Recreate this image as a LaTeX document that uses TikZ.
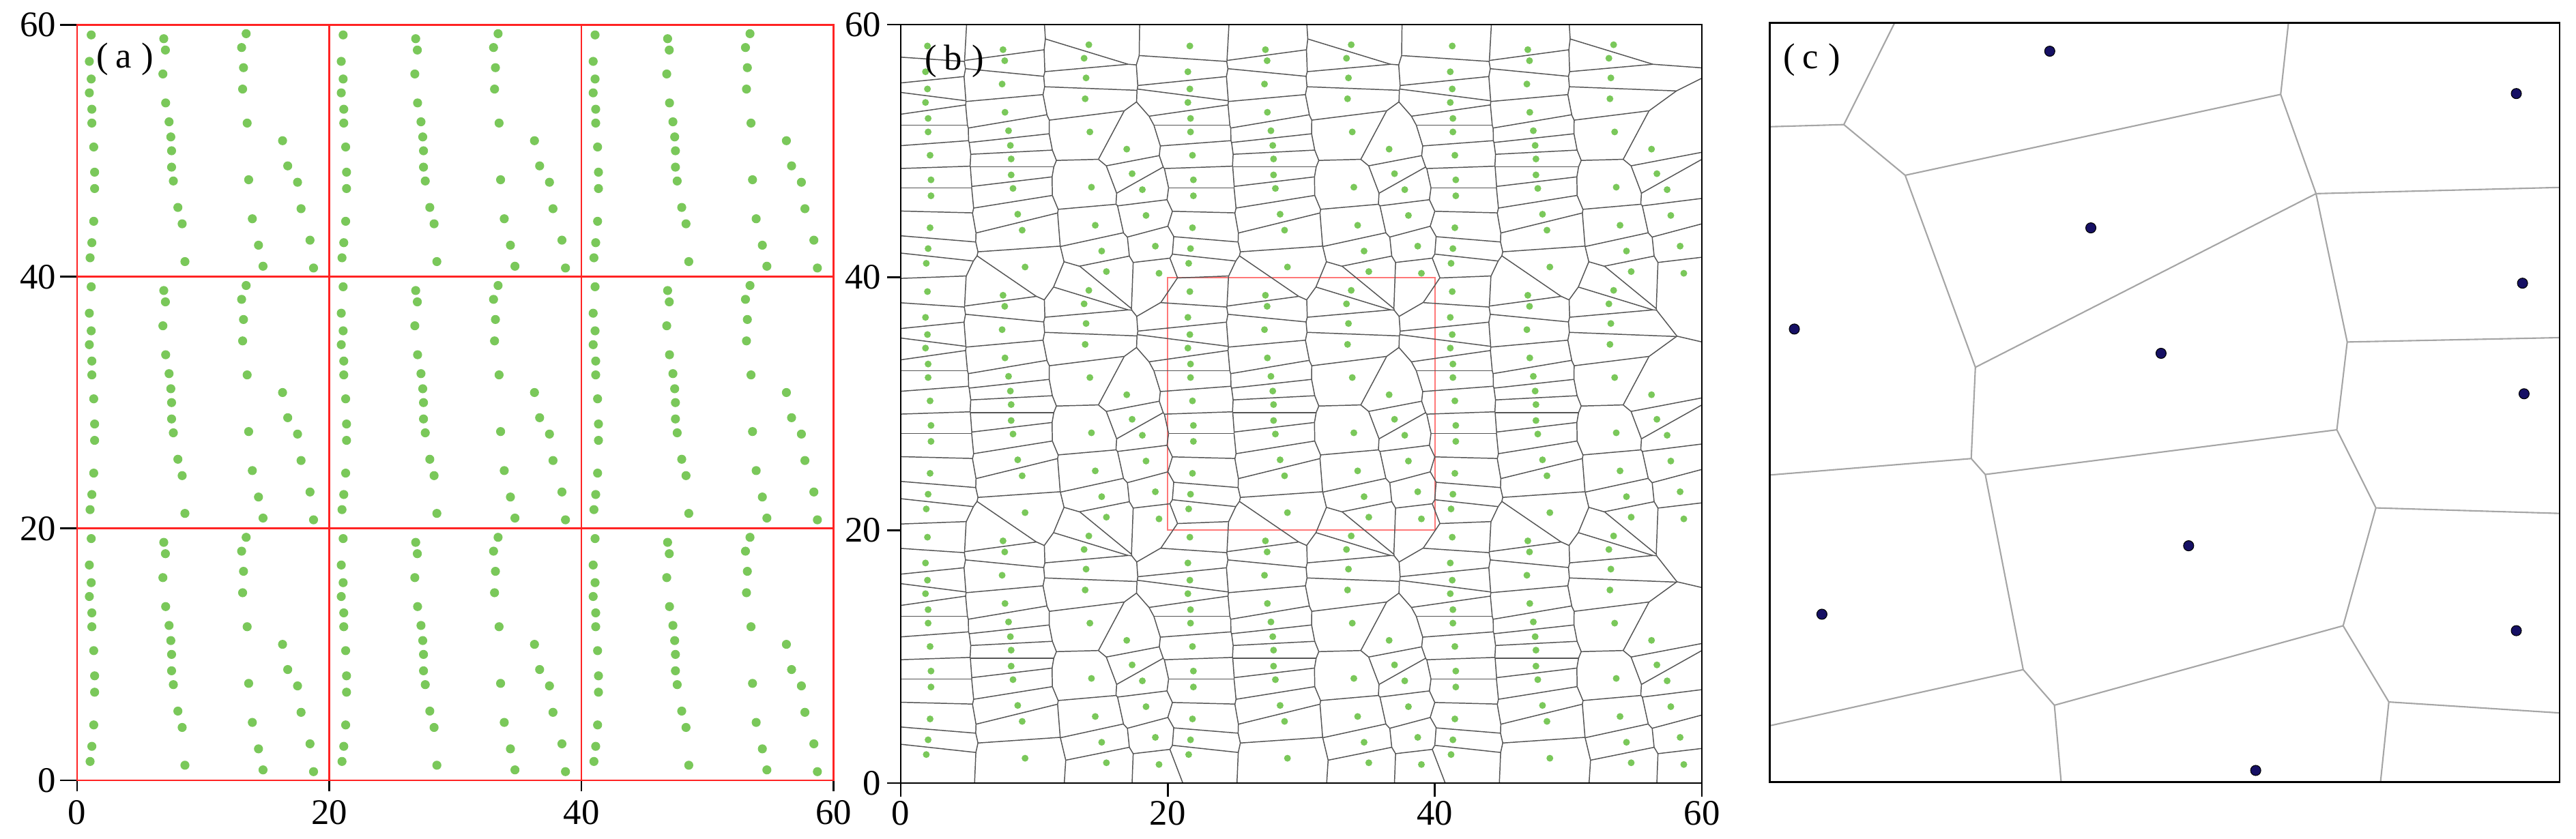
\documentclass[tikz,border=0pt]{standalone}
\usepackage{fontspec}
\setmainfont{Liberation Serif}

\definecolor{dotgreen}{RGB}{122,200,90}
\definecolor{gridred}{RGB}{255,35,35}
\definecolor{rectred}{RGB}{255,120,120}
\definecolor{vorgray}{RGB}{85,85,85}
\definecolor{cgray}{RGB}{165,165,165}
\definecolor{navydot}{RGB}{22,16,100}

\tikzset{
  vor/.style={draw=vorgray, line width=0.42pt},
  cedge/.style={draw=cgray, line width=0.6pt},
  axisline/.style={draw=black, line width=0.8pt},
  gridline/.style={draw=gridred, line width=0.8pt},
  ticklbl/.style={inner sep=0pt, font=\fontsize{15pt}{18pt}\selectfont},
  panellbl/.style={inner sep=0pt, anchor=west, font=\fontsize{15pt}{18pt}\selectfont},
  adot/.style={fill=dotgreen, radius=0.066cm},
  bdot/.style={fill=dotgreen, radius=0.05cm},
  cdot/.style={fill=navydot, draw=black, line width=0.3pt, radius=0.075cm},
}

% ---------- point data (tile of 20 x 20, values x100) ----------
\newcount\vorN \newcount\vorI \newcount\vorK
\newcount\vorXi \newcount\vorYi \newcount\vorJx \newcount\vorJy
\newcount\vorKx \newcount\vorKy \newcount\vorA \newcount\vorB
\newcount\vorT \newcount\vorD \newcount\vorTlo \newcount\vorThi \newcount\vorOk

\def\vorPX#1{\count\numexpr20000+#1\relax}
\def\vorPY#1{\count\numexpr21000+#1\relax}
\def\vorAdd#1#2{\vorPX{\vorN}=\numexpr#1\relax
  \vorPY{\vorN}=\numexpr#2\relax \advance\vorN by 1\relax}

\def\vorTiledata{%
\vorTp{112}{1920}\vorTp{97}{1710}\vorTp{112}{1570}\vorTp{97}{1460}\vorTp{117}{1330}\vorTp{117}{1220}%
\vorTp{132}{1030}\vorTp{139}{830}\vorTp{139}{700}\vorTp{132}{440}\vorTp{117}{270}\vorTp{103}{150}%
\vorTp{688}{1890}\vorTp{701}{1800}\vorTp{681}{1610}\vorTp{703}{1380}\vorTp{730}{1230}\vorTp{744}{1110}%
\vorTp{750}{1000}\vorTp{750}{870}\vorTp{764}{760}\vorTp{800}{550}\vorTp{834}{420}\vorTp{856}{120}%
\vorTp{1342}{1930}\vorTp{1306}{1820}\vorTp{1321}{1660}\vorTp{1314}{1490}\vorTp{1350}{1220}%
\vorTp{1362}{770}\vorTp{1391}{460}\vorTp{1440}{250}\vorTp{1476}{83}%
\vorTp{1631}{1080}\vorTp{1672}{880}\vorTp{1750}{750}\vorTp{1778}{540}\vorTp{1849}{290}\vorTp{1877}{69}}
\def\vorAddtile#1#2{\def\vorTp##1##2{\vorAdd{##1+#1}{##2+#2}}\vorTiledata}
\vorAddtile{0}{0}\vorAddtile{2000}{0}\vorAddtile{4000}{0}
\vorAddtile{0}{2000}\vorAddtile{2000}{2000}\vorAddtile{4000}{2000}
\vorAddtile{0}{4000}\vorAddtile{2000}{4000}\vorAddtile{4000}{4000}

% ---------- Voronoi edges (bisector clipping) ----------
\def\vorKscan{\ifnum\vorK<\vorN \vorKscanbody \advance\vorK by 1\relax \expandafter\vorKscan\fi}
\def\vorKscanbody{%
  \ifnum\vorK=\vorI\else
    \vorKx=\numexpr\vorPX{\vorK}-\vorXi\relax
    \vorKy=\numexpr\vorPY{\vorK}-\vorYi\relax
    \ifnum\numexpr\vorKx*\vorKx+\vorKy*\vorKy\relax<1440000
      \edef\vorList{\unexpanded\expandafter{\vorList}\noexpand\vorItem{\the\vorK}}%
    \fi
  \fi}
\def\vorIloop{\ifnum\vorI<\vorN \vorIbody \expandafter\vorIloop\fi}
\def\vorIbody{%
  \vorXi=\vorPX{\vorI}\relax \vorYi=\vorPY{\vorI}\relax
  \def\vorList{}\vorK=0 \vorKscan
  \let\vorItem\vorJproc \vorList
  \advance\vorI by 1\relax}
\def\vorJproc#1{%
  \ifnum#1>\vorI
    \vorJx=\numexpr\vorPX{#1}-\vorXi\relax
    \vorJy=\numexpr\vorPY{#1}-\vorYi\relax
    \ifnum\numexpr\vorJx*\vorJx+\vorJy*\vorJy\relax<1102500
      \vorJwork
    \fi
  \fi}
\def\vorJwork{%
  \begingroup
  \vorTlo=-80000 \vorThi=80000 \vorOk=1
  \let\vorItem\vorKproc \vorList
  \ifnum\vorOk=1 \vorEmit\fi
  \endgroup}
\def\vorKproc#1{\ifnum\vorOk=1 \vorKwork{#1}\fi}
\def\vorKwork#1{%
  \vorKx=\numexpr\vorPX{#1}-\vorXi\relax
  \vorKy=\numexpr\vorPY{#1}-\vorYi\relax
  \vorA=\numexpr2*(\vorKy*\vorJx-\vorKx*\vorJy)\relax
  \vorB=\numexpr\vorKx*\vorKx+\vorKy*\vorKy-\vorKx*\vorJx-\vorKy*\vorJy\relax
  \ifnum\vorA=0
    \ifnum\vorB<0 \vorOk=0 \fi
  \else
    \vorD=\vorA \ifnum\vorD<0 \vorD=-\vorD \fi
    \vorT=\vorB \ifnum\vorT<0 \vorT=-\vorT \fi
    \ifnum\vorT<\numexpr8*\vorD\relax
      \vorT=\numexpr\vorB*10000/\vorA\relax
      \ifnum\vorA>0
        \ifnum\vorT<\vorThi \vorThi=\vorT \fi
      \else
        \ifnum\vorT>\vorTlo \vorTlo=\vorT \fi
      \fi
      \ifnum\vorTlo<\vorThi\else \vorOk=0 \fi
    \else
      \ifnum\vorB<0 \vorOk=0 \fi
    \fi
  \fi}
\def\vorEmit{%
  \edef\vorTmp{\noexpand\draw[vor] (\the\numexpr(2*\vorXi+\vorJx)/2-\vorTlo*\vorJy/10000\relax,\the\numexpr(2*\vorYi+\vorJy)/2+\vorTlo*\vorJx/10000\relax)--(\the\numexpr(2*\vorXi+\vorJx)/2-\vorThi*\vorJy/10000\relax,\the\numexpr(2*\vorYi+\vorJy)/2+\vorThi*\vorJx/10000\relax);}%
  \vorTmp}
\def\vorDotloop{\ifnum\vorK<\vorN \vorDotbody \advance\vorK by 1\relax \expandafter\vorDotloop\fi}
\def\vorDotbody{\edef\vorTmp{\noexpand\fill[\vorDotstyle] (\the\vorPX{\vorK},\the\vorPY{\vorK}) circle;}\vorTmp}

\begin{document}
\begin{tikzpicture}
\useasboundingbox (0,0) rectangle (37.75,12.30);
\fill[white] (0,0) rectangle (37.75,12.30);

% ================= panel (a) =================
\draw[axisline] (1.13,11.933) -- (1.13,0.86) -- (12.215,0.86);
\foreach \yy/\lab in {0.86/0,4.551/20,8.242/40,11.933/60}{
  \draw[axisline] (0.88,\yy) -- (1.13,\yy);
  \node[ticklbl,anchor=east] (ay\lab) at (0.83,\yy) {\lab};
}
\foreach \xx/\lab in {1.13/0,4.825/20,8.52/40,12.215/60}{
  \draw[axisline] (\xx,0.86) -- (\xx,0.70);
  \node[ticklbl,anchor=north] (ax\lab) at (\xx,0.57) {\lab};
}
\begin{scope}[shift={(1.13cm,0.86cm)},x=0.0018475cm,y=0.0018455cm]
  \def\vorDotstyle{adot}\vorK=0 \vorDotloop
\end{scope}
\draw[gridline] (1.13,0.86) rectangle (12.215,11.933);
\foreach \xx in {4.825,8.52} \draw[gridline] (\xx,0.86) -- (\xx,11.933);
\foreach \yy in {4.551,8.242} \draw[gridline] (1.13,\yy) -- (12.215,\yy);
\node[panellbl] (la) at (1.41,11.43) {(\hspace{0.2em}a\hspace{0.28em})};

% ================= panel (b) =================
\foreach \yy/\lab in {0.82/0,4.527/20,8.233/40,11.94/60}{
  \draw[axisline] (13.00,\yy) -- (13.20,\yy);
  \node[ticklbl,anchor=east] (by\lab) at (12.92,\yy) {\lab};
}
\foreach \xx/\lab in {13.20/0,17.113/20,21.027/40,24.94/60}{
  \draw[axisline] (\xx,0.82) -- (\xx,0.62);
  \node[ticklbl,anchor=north] (bx\lab) at (\xx,0.56) {\lab};
}
\draw[rectred,line width=0.5pt] (17.113,4.527) rectangle (21.027,8.233);
\begin{scope}
  \clip (13.20,0.82) rectangle (24.94,11.94);
  \begin{scope}[shift={(13.376cm,0.968cm)},x=0.0019176cm,y=0.0018070cm]
    \vorI=0 \vorIloop
    \def\vorDotstyle{bdot}\vorK=0 \vorDotloop
  \end{scope}
\end{scope}
\draw[axisline] (13.20,0.82) rectangle (24.94,11.94);
\node[panellbl] (lb) at (13.55,11.40) {(\hspace{0.2em}b\hspace{0.28em})};

% ================= panel (c) =================
\coordinate (T1) at (27.766,11.967);
\coordinate (T2) at (33.536,11.967);
\coordinate (L1) at (25.933,10.442);
\coordinate (L2) at (25.933,5.336);
\coordinate (L3) at (25.933,1.66);
\coordinate (R1) at (37.51,9.552);
\coordinate (R2) at (37.51,7.35);
\coordinate (R3) at (37.51,4.773);
\coordinate (R4) at (37.51,1.848);
\coordinate (B1) at (34.885,0.835);
\coordinate (B2) at (30.205,0.835);
\coordinate (V1) at (27.02,10.473);
\coordinate (V2) at (27.919,9.73);
\coordinate (V3) at (33.422,10.916);
\coordinate (V4) at (33.94,9.461);
\coordinate (V5) at (28.948,6.915);
\coordinate (V6) at (34.397,7.286);
\coordinate (V7) at (28.887,5.577);
\coordinate (V8) at (29.093,5.344);
\coordinate (V9) at (34.245,5.999);
\coordinate (V10) at (34.817,4.854);
\coordinate (V11) at (34.337,3.126);
\coordinate (V12) at (29.649,2.483);
\coordinate (V13) at (30.106,1.961);
\coordinate (V14) at (35.007,2.009);
\draw[cedge] (T1)--(V1) (L1)--(V1) (V1)--(V2) (V2)--(V3) (V3)--(T2) (V3)--(V4)
  (V4)--(R1) (V2)--(V5) (V5)--(V4) (V4)--(V6) (V6)--(R2) (V5)--(V7) (V7)--(L2)
  (V7)--(V8) (V8)--(V9) (V9)--(V6) (V9)--(V10) (V10)--(R3) (V10)--(V11)
  (V8)--(V12) (V12)--(L3) (V12)--(V13) (V13)--(V11) (V11)--(V14) (V14)--(R4)
  (V14)--(B1) (V13)--(B2);
\foreach \px/\py [count=\n] in {30.038/11.549,36.875/10.928,30.64/8.959,36.966/8.148,
  26.295/7.476,31.669/7.12,36.989/6.527,32.073/4.299,26.699/3.295,36.875/3.054,33.056/1.005}
  \fill[cdot] (\px,\py) circle;
\draw[line width=0.8pt] (25.933,0.835) rectangle (37.51,11.967);
\node[panellbl] (lc) at (26.13,11.42) {(\hspace{0.2em}c\hspace{0.28em})};
\end{tikzpicture}
\end{document}
